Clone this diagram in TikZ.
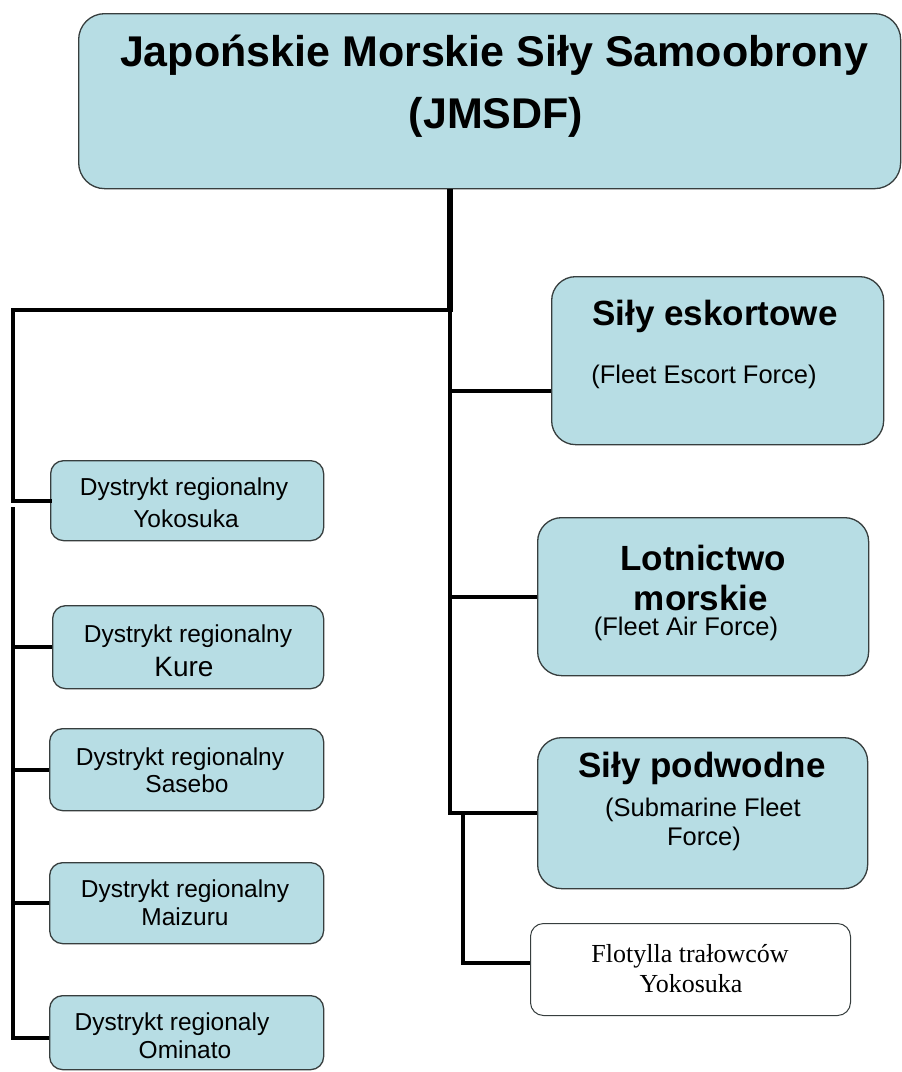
\documentclass[tikz,border=0pt]{standalone}
\usepackage{fontspec}
\setmainfont{Liberation Sans}
\newfontfamily\serifx{Liberation Serif}
\definecolor{boxfill}{RGB}{183,221,228}
\definecolor{boxline}{RGB}{55,62,62}
\begin{document}
\begin{tikzpicture}[x=1pt,y=-1pt]
\tikzset{
  box/.style={draw=boxline,line width=1.3pt,fill=boxfill,inner sep=0pt,anchor=north west},
  wbox/.style={box,fill=white,line width=1pt},
  conn/.style={draw=black,line width=4pt},
  txt/.style={anchor=base,inner sep=0pt},
  big/.style={txt,font=\bfseries\fontsize{43}{50}\selectfont},
  mid/.style={txt,font=\bfseries\fontsize{35}{40}\selectfont},
  sub/.style={txt,font=\fontsize{25.5}{30}\selectfont},
  small/.style={txt,font=\fontsize{24.5}{30}\selectfont},
  ser/.style={txt,font=\serifx\fontsize{26}{30}\selectfont},
}
\useasboundingbox (0,0) rectangle (902,1072);
\fill[white] (0,0) rectangle (902,1072);
% boxes
\node[box,rounded corners=26pt,minimum width=822pt,minimum height=175pt] (top) at (78,13) {};
\node[box,rounded corners=24pt,minimum width=332pt,minimum height=168pt] (esk) at (551,276) {};
\node[box,rounded corners=24pt,minimum width=331pt,minimum height=158pt] (lot) at (537,517) {};
\node[box,rounded corners=24pt,minimum width=330pt,minimum height=151pt] (pod) at (537,737) {};
\node[wbox,rounded corners=13pt,minimum width=320pt,minimum height=92pt] (flo) at (530,923) {};
\node[box,rounded corners=13pt,minimum width=273pt,minimum height=80pt] (yok) at (50,460) {};
\node[box,rounded corners=13pt,minimum width=271pt,minimum height=83pt] (kur) at (52,605) {};
\node[box,rounded corners=13pt,minimum width=274pt,minimum height=82pt] (sas) at (49,728) {};
\node[box,rounded corners=13pt,minimum width=274pt,minimum height=81pt] (mai) at (49,862) {};
\node[box,rounded corners=13pt,minimum width=274pt,minimum height=74pt] (omi) at (49,995) {};
% texts
\node[big] (ttop1) at (494,66) {Japońskie Morskie Siły Samoobrony};
\node[big] (ttop2) at (496,128) {(JMSDF)};
\node[mid] (tesk) at (715,325) {Siły eskortowe};
\node[sub] (sesk) at (704,383) {(Fleet Escort Force)};
\node[mid] (tlot1) at (703,570) {Lotnictwo};
\node[mid] (tlot2) at (701,610) {morskie};
\node[sub] (slot) at (686,635) {(Fleet Air Force)};
\node[mid] (tpod) at (702,777) {Siły podwodne};
\node[sub] (spod1) at (703,816) {(Submarine Fleet};
\node[sub] (spod2) at (704,845) {Force)};
\node[ser] (tflo1) at (690,962) {Flotylla trałowców};
\node[ser] (tflo2) at (691,992) {Yokosuka};
\node[small] (tyok1) at (184,495) {Dystrykt regionalny};
\node[small] (tyok2) at (186,527) {Yokosuka};
\node[small] (tkur1) at (188,642) {Dystrykt regionalny};
\node[small,font=\fontsize{28}{30}\selectfont] (tkur2) at (184,676) {Kure};
\node[small] (tsas1) at (180,765) {Dystrykt regionalny};
\node[small] (tsas2) at (187,792) {Sasebo};
\node[small] (tmai1) at (185,897) {Dystrykt regionalny};
\node[small] (tmai2) at (185,925) {Maizuru};
\node[small] (tomi1) at (172,1030) {Dystrykt regionaly};
\node[small] (tomi2) at (185,1058) {Ominato};
% connectors
\coordinate (jt) at (450,310);
\coordinate (jl) at (13,310);
\coordinate (jl2) at (13,507);
\coordinate (jf) at (463,813);
\coordinate (eskin) at ([yshift=-30pt]esk.west);
\coordinate (floin) at ([yshift=7pt]flo.west);
\coordinate (omin) at ([yshift=-5pt]omi.west);
\draw[conn,line width=6.5pt] (top.south -| jt) -- ([yshift=-2pt]jt);
\draw[conn,line cap=rect] (jt) -- (jl) -- (jl |- yok.west) -- (yok.west);
\draw[conn] (jl2) -- (jl2 |- omin) -- (omin);
\draw[conn] (jl2 |- kur.west) -- (kur.west);
\draw[conn] (jl2 |- sas.west) -- (sas.west);
\draw[conn] (jl2 |- mai.west) -- (mai.west);
\draw[conn] (jt) -- (jt |- pod.west) -- (pod.west);
\draw[conn] (jt |- eskin) -- (eskin);
\draw[conn] (jt |- lot.west) -- (lot.west);
\draw[conn] (jf) -- (jf |- floin) -- (floin);
\end{tikzpicture}
\end{document}
